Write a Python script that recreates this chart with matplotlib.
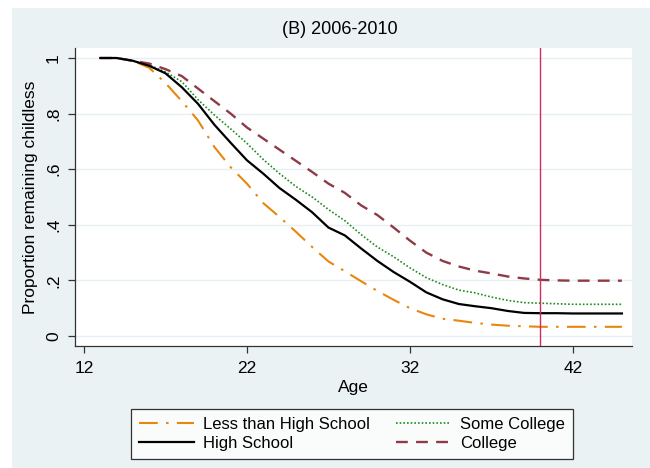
import matplotlib
matplotlib.use("Agg")
import matplotlib.pyplot as plt
from matplotlib.patches import Rectangle
from matplotlib.lines import Line2D

ages = [13, 14, 15, 16, 17, 18, 19, 20, 21, 22, 23, 24, 25, 26, 27, 28, 29,
        30, 31, 32, 33, 34, 35, 36, 37, 38, 39, 40, 41, 42, 43, 44, 45]

less_hs = [1.0, 1.0, 0.99, 0.965, 0.91, 0.845, 0.775, 0.68, 0.607, 0.548, 0.478,
           0.428, 0.375, 0.32, 0.268, 0.233, 0.197, 0.162, 0.13, 0.10, 0.078,
           0.062, 0.055, 0.047, 0.041, 0.037, 0.035, 0.033, 0.033, 0.033, 0.033,
           0.033, 0.033]
high_school = [1.0, 1.0, 0.99, 0.972, 0.945, 0.895, 0.835, 0.76, 0.695, 0.632,
               0.584, 0.532, 0.49, 0.445, 0.39, 0.362, 0.315, 0.27, 0.23, 0.195,
               0.157, 0.132, 0.115, 0.107, 0.10, 0.09, 0.083, 0.082, 0.082, 0.081,
               0.081, 0.081, 0.081]
some_college = [1.0, 1.0, 0.99, 0.975, 0.95, 0.915, 0.85, 0.795, 0.745, 0.693,
                0.635, 0.584, 0.538, 0.50, 0.455, 0.415, 0.365, 0.32, 0.285,
                0.245, 0.21, 0.185, 0.165, 0.155, 0.14, 0.128, 0.12, 0.118,
                0.116, 0.114, 0.114, 0.114, 0.114]
college = [1.0, 1.0, 0.99, 0.98, 0.96, 0.935, 0.89, 0.845, 0.80, 0.75, 0.71,
           0.67, 0.63, 0.59, 0.548, 0.515, 0.47, 0.435, 0.39, 0.343, 0.30, 0.27,
           0.25, 0.235, 0.225, 0.214, 0.207, 0.202, 0.20, 0.199, 0.199, 0.199,
           0.199]

vline_age = 40
xticks = [12, 22, 32, 42]
yticks = [0, 0.2, 0.4, 0.6, 0.8, 1.0]
ytick_labels = ["0", ".2", ".4", ".6", ".8", "1"]

labels = ["Less than High School", "High School", "Some College", "College"]

plt.rcParams['font.family'] = ['Liberation Sans', 'DejaVu Sans']

W, H = 650, 468
fig = plt.figure(figsize=(6.5, 4.68), dpi=100)
fig.patch.set_facecolor('white')
bg = Rectangle((12 / W, 0), 1 - 12 / W, 1 - 8 / H, transform=fig.transFigure,
               facecolor='#EAF2F3', edgecolor='none', zorder=-10)
fig.patches.append(bg)

ax = fig.add_axes([75 / W, 1 - 346 / H, (632 - 75) / W, (346 - 48) / H])
ax.set_facecolor('white')

orange = '#E8870E'
green = '#1E8C1E'
maroon = '#8E3B47'

ax.plot(ages, less_hs, color=orange, lw=1.5, dashes=(9, 4, 1.2, 4), label=labels[0], zorder=3)
ax.plot(ages, high_school, color='black', lw=1.6, label=labels[1], zorder=4)
ax.plot(ages, some_college, color=green, lw=1.2, dashes=(1, 1.2), label=labels[2], zorder=3)
ax.plot(ages, college, color=maroon, lw=1.7, dashes=(5, 3.5), label=labels[3], zorder=3)
ax.axvline(vline_age, color='#D42A5C', lw=1.0, zorder=5)

ax.set_xlim(11.45, 45.62)
ax.set_ylim(-0.036, 1.036)
ax.set_xticks(xticks)
ax.set_yticks(yticks)
ax.set_yticklabels(ytick_labels, rotation=90, va='center')
ax.grid(axis='y', color='#E6EFF1', lw=1.0, zorder=0)
ax.set_axisbelow(True)
for s in ['top', 'right']:
    ax.spines[s].set_visible(False)
for s in ['left', 'bottom']:
    ax.spines[s].set_color('#333333')
    ax.spines[s].set_linewidth(0.9)
ax.tick_params(axis='both', colors='#333333', labelcolor='black', labelsize=12.5,
               length=5, width=0.9, direction='out')
ax.tick_params(axis='x', pad=6)
ax.tick_params(axis='y', pad=5)

ax.set_xlabel("Age", fontsize=12.5, labelpad=3)
ax.set_ylabel("Proportion remaining childless", fontsize=12.5, labelpad=6)
fig.text(340 / W, 1 - 30 / H, "(B) 2006-2010", ha='center', va='center', fontsize=13)

handles = [
    Line2D([], [], color=orange, lw=1.5, dashes=(9, 4, 1.2, 4)),
    Line2D([], [], color='black', lw=1.6),
    Line2D([], [], color=green, lw=1.2, dashes=(1, 1.2)),
    Line2D([], [], color=maroon, lw=1.7, dashes=(5, 3.5)),
]
leg = fig.legend(handles, labels, ncol=2, loc='center',
                 bbox_to_anchor=(352 / W, 1 - 434 / H), fontsize=12,
                 frameon=True, fancybox=False, edgecolor='black', facecolor='white',
                 handlelength=3.3, columnspacing=1.6, labelspacing=0.25,
                 borderpad=0.5, handletextpad=0.5)
leg.get_frame().set_linewidth(0.9)

fig.savefig("out.png", dpi=100, facecolor=fig.get_facecolor())
